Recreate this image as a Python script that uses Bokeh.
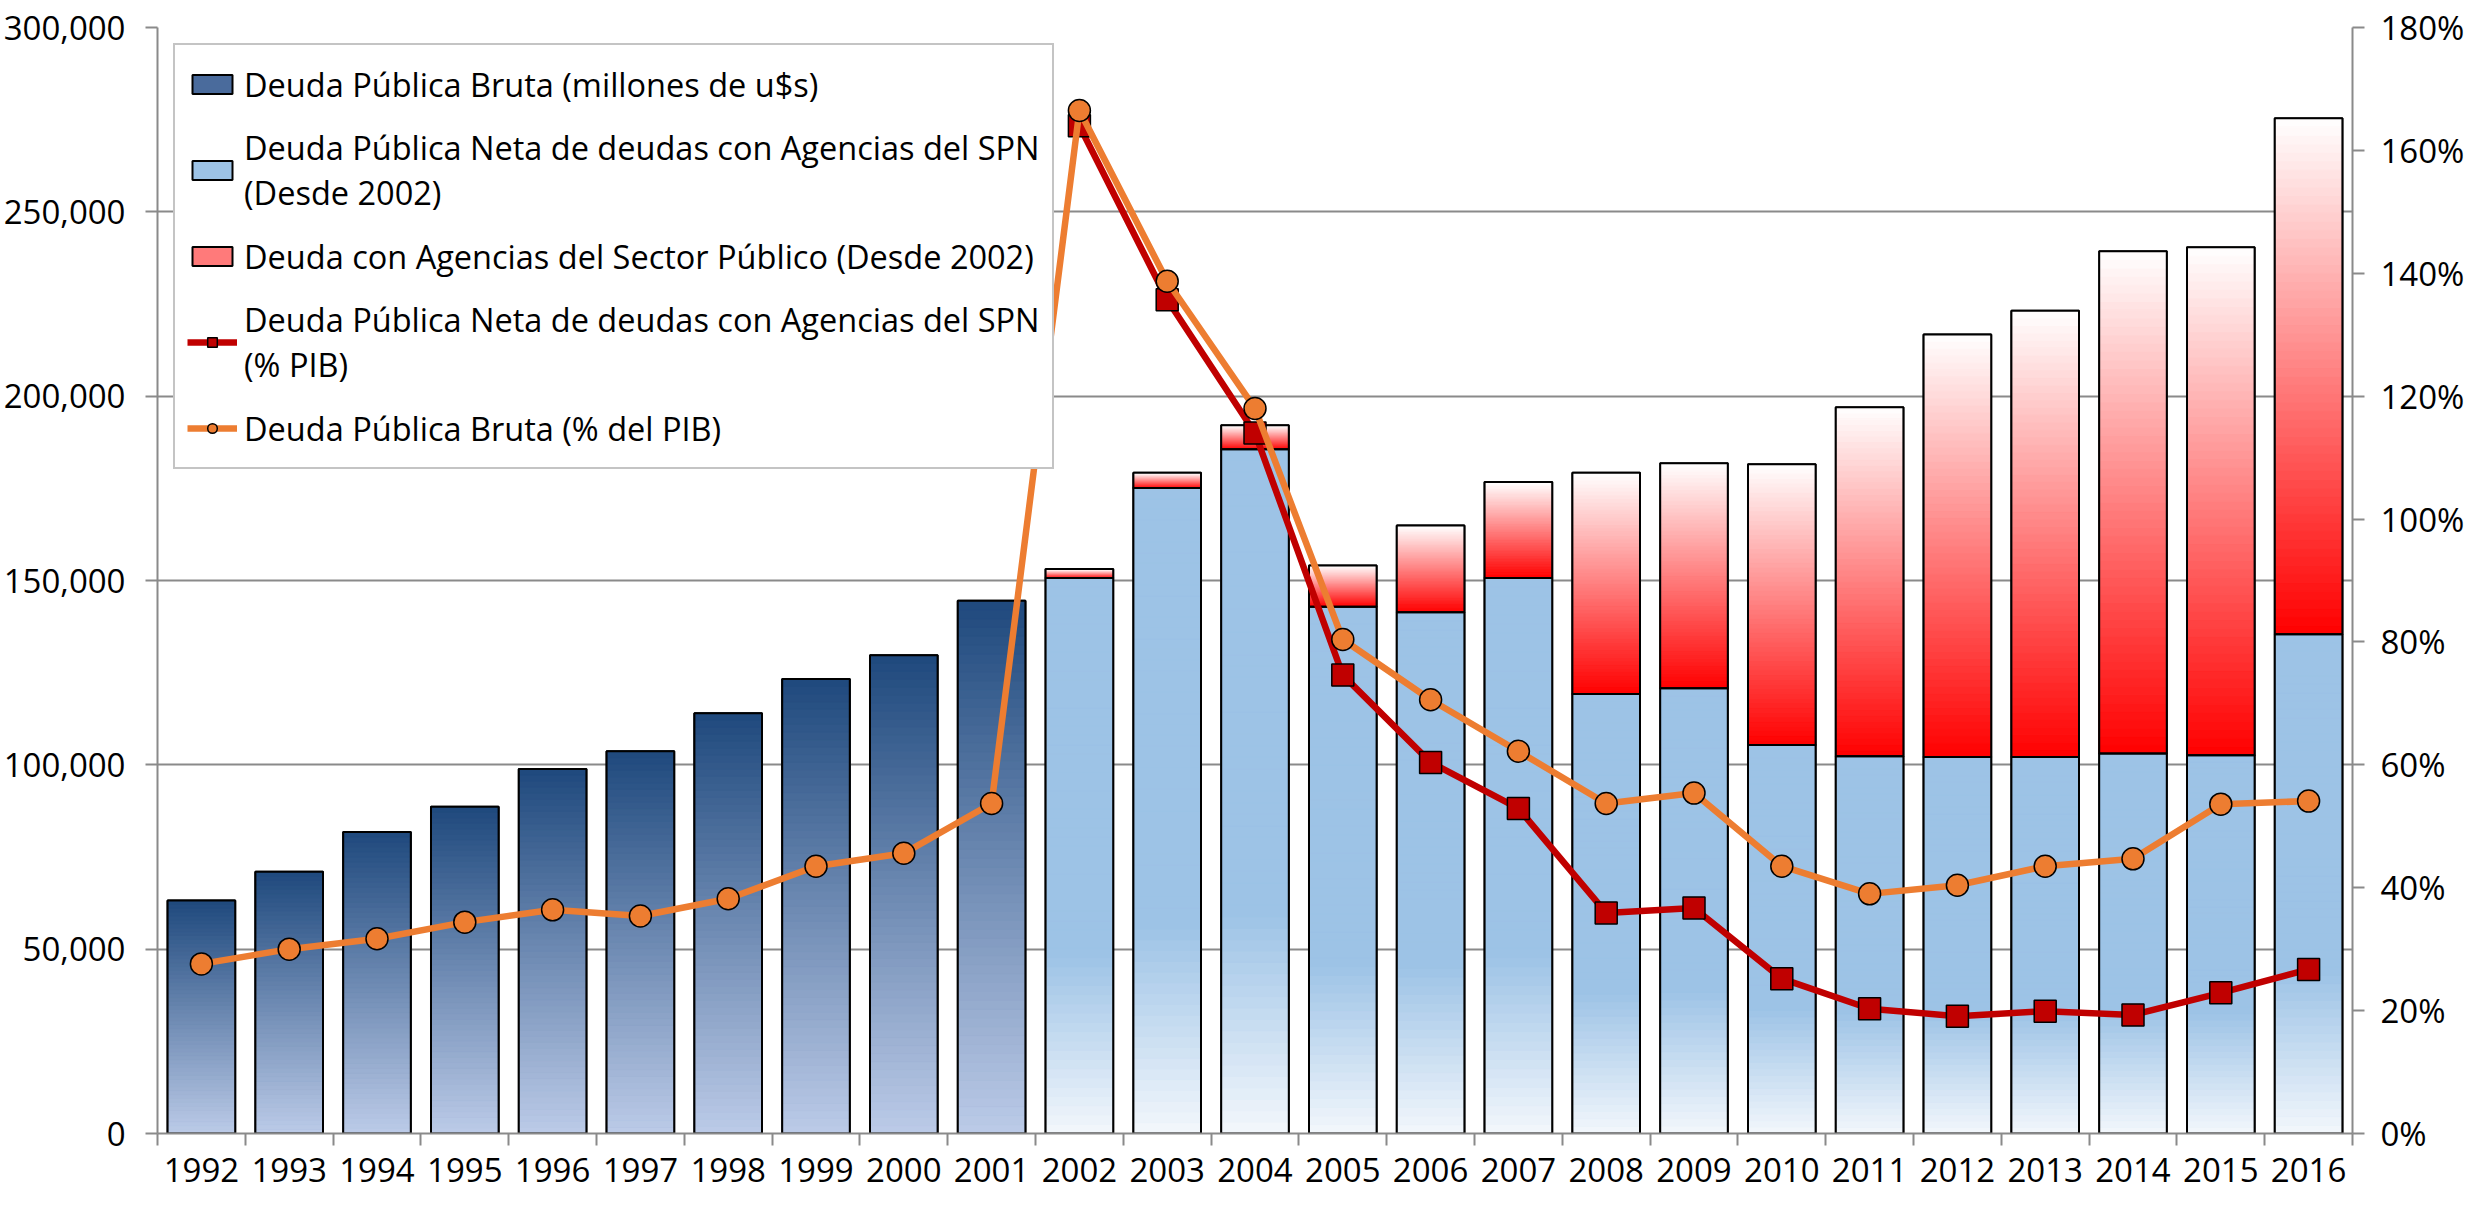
import numpy as np
from bokeh.plotting import figure
from bokeh.models import (Range1d, LinearAxis, FixedTicker, NumeralTickFormatter,
                          ColumnDataSource, Legend, LegendItem)
from bokeh.embed import file_html
from bokeh.resources import INLINE

# ---------------- data ----------------
years = [str(y) for y in range(1992, 2017)]
# Deuda Pública Bruta (millones de u$s), 1992-2001
bruta_musd = [63200, 71000, 81800, 88600, 98900, 103700, 114000, 123300, 129700, 144500]
# Deuda Pública Neta de deudas con Agencias del SPN (millones u$s), 2002-2016
neta_musd = [150700, 175100, 185600, 142900, 141400, 150700, 119200, 120800,
             105400, 102300, 102100, 102100, 103100, 102600, 135400]
# Total (neta + deuda con agencias del sector público), 2002-2016
total_musd = [153100, 179200, 192100, 154100, 164900, 176700, 179200, 181800,
              181500, 197000, 216700, 223200, 239300, 240400, 275400]
# Deuda Pública Bruta (% del PIB), 1992-2016
bruta_pct = [27.6, 30.0, 31.7, 34.4, 36.4, 35.4, 38.2, 43.5, 45.6, 53.7,
             166.5, 138.7, 118.0, 80.4, 70.6, 62.2, 53.7, 55.4, 43.5, 39.0,
             40.4, 43.5, 44.7, 53.6, 54.1]
# Deuda Pública Neta de deudas con Agencias del SPN (% PIB), 2002-2016
neta_pct = [164.0, 135.7, 114.0, 74.6, 60.4, 52.9, 35.9, 36.7, 25.2, 20.3,
            19.1, 19.9, 19.3, 22.9, 26.7]

left_ticks = [0, 50000, 100000, 150000, 200000, 250000, 300000]
right_ticks = [0, 0.2, 0.4, 0.6, 0.8, 1.0, 1.2, 1.4, 1.6, 1.8]

lbl_bruta = "Deuda Pública Bruta (millones de u$s)"
lbl_neta = "Deuda Pública Neta de deudas con Agencias del SPN\n(Desde 2002)"
lbl_agen = "Deuda con Agencias del Sector Público (Desde 2002)"
lbl_neta_pct = "Deuda Pública Neta de deudas con Agencias del SPN\n(% PIB)"
lbl_bruta_pct = "Deuda Pública Bruta (% del PIB)"

# ---------------- derived positions ----------------
n_all = len(years)
x_all = list(range(1, n_all + 1))
x_b = x_all[:len(bruta_musd)]
x_n = x_all[len(bruta_musd):]

FONT = "Open Sans"
FS = "33px"
LFS = "32.5px"
GRAY = "#8a8a8a"
W = 0.77


def h2rgb(h):
    return tuple(int(h[i:i + 2], 16) for i in (1, 3, 5))


def mix(c0, c1, t):
    a, b = h2rgb(c0), h2rgb(c1)
    return "#%02x%02x%02x" % tuple(int(round(a[i] + (b[i] - a[i]) * t)) for i in range(3))


def slices(xs, bottoms, tops, fn, n=60):
    X, B, T, C = [], [], [], []
    for x, b, t in zip(xs, bottoms, tops):
        e = np.linspace(b, t, n + 1)
        for k in range(n):
            X.append(x); B.append(e[k]); T.append(e[k + 1]); C.append(fn((k + 0.5) / n))
    return ColumnDataSource(dict(x=X, bottom=B, top=T, color=C))


def dark_fn(f):
    return mix("#BCCBE8", "#1F497D", f)


def light_fn(f):
    if f >= 0.32:
        return "#9DC3E6"
    return mix("#F3F7FC", "#9DC3E6", f / 0.32)


def red_fn(f):
    return mix("#FF0000", "#FFFFFF", f)


p = figure(width=2467, height=1195, output_backend="svg", toolbar_location=None,
           x_range=Range1d(0.5, n_all + 0.5), y_range=Range1d(0, 300000),
           min_border_left=147, min_border_right=109, min_border_top=27, min_border_bottom=62,
           background_fill_color="white", border_fill_color="white")
p.outline_line_color = None
p.extra_y_ranges = {"pct": Range1d(0, 1.8)}

# grid
p.xgrid.visible = False
p.ygrid.ticker = FixedTicker(ticks=left_ticks)
p.ygrid.grid_line_color = GRAY
p.ygrid.grid_line_width = 2

# legend swatch renderers (covered by gradient slices)
zeros_b = [0] * len(x_b)
zeros_n = [0] * len(x_n)
r_bruta = p.vbar(x=x_b, bottom=zeros_b, top=bruta_musd, width=W,
                 fill_color="#4a6b9c", line_color="black", line_width=2)
r_neta = p.vbar(x=x_n, bottom=zeros_n, top=neta_musd, width=W,
                fill_color="#9DC3E6", line_color="black", line_width=2)
r_agen = p.vbar(x=x_n, bottom=neta_musd, top=total_musd, width=W,
                fill_color="#FF7a7a", line_color="black", line_width=2)

# gradient fills
for src in (slices(x_b, zeros_b, bruta_musd, dark_fn),
            slices(x_n, zeros_n, neta_musd, light_fn),
            slices(x_n, neta_musd, total_musd, red_fn)):
    p.vbar(x="x", bottom="bottom", top="top", width=W, source=src,
           fill_color="color", line_color="color", line_width=1)

# outlines
p.vbar(x=x_b, bottom=zeros_b, top=bruta_musd, width=W, fill_color=None, line_color="black", line_width=2)
p.vbar(x=x_n, bottom=zeros_n, top=neta_musd, width=W, fill_color=None, line_color="black", line_width=2)
p.vbar(x=x_n, bottom=neta_musd, top=total_musd, width=W, fill_color=None, line_color="black", line_width=2)

# lines
np_ = [v / 100 for v in neta_pct]
bp_ = [v / 100 for v in bruta_pct]
l1 = p.line(x_n, np_, y_range_name="pct", line_color="#C00000", line_width=6.5)
m1 = p.scatter(x_n, np_, y_range_name="pct", marker="square", size=22,
               fill_color="#C00000", line_color="black", line_width=1.5)
l2 = p.line(x_all, bp_, y_range_name="pct", line_color="#ED7D31", line_width=6.5)
m2 = p.scatter(x_all, bp_, y_range_name="pct", marker="circle", size=22,
               fill_color="#ED7D31", line_color="black", line_width=1.5)


# axes
def style_axis(ax):
    ax.axis_line_color = GRAY
    ax.axis_line_width = 2
    ax.major_tick_line_color = GRAY
    ax.major_tick_line_width = 2
    ax.major_tick_in = 0
    ax.major_tick_out = 12
    ax.minor_tick_line_color = None
    ax.major_label_text_font = FONT
    ax.major_label_text_font_size = FS
    ax.major_label_text_color = "black"


ly = p.yaxis[0]
style_axis(ly)
ly.ticker = FixedTicker(ticks=left_ticks)
ly.formatter = NumeralTickFormatter(format="0,0")
ly.major_label_standoff = 20

ry = LinearAxis(y_range_name="pct", ticker=FixedTicker(ticks=right_ticks),
                formatter=NumeralTickFormatter(format="0%"))
style_axis(ry)
ry.major_label_standoff = 16
p.add_layout(ry, "right")

bx = p.xaxis[0]
style_axis(bx)
bx.ticker = FixedTicker(ticks=x_all, minor_ticks=[i - 0.5 for i in x_all] + [n_all + 0.5])
bx.major_label_overrides = {i: y for i, y in zip(x_all, years)}
bx.major_tick_out = 0
bx.minor_tick_line_color = GRAY
bx.minor_tick_line_width = 2
bx.minor_tick_in = 0
bx.minor_tick_out = 12
bx.major_label_standoff = 12

legend = Legend(items=[
    LegendItem(label=lbl_bruta, renderers=[r_bruta]),
    LegendItem(label=lbl_neta, renderers=[r_neta]),
    LegendItem(label=lbl_agen, renderers=[r_agen]),
    LegendItem(label=lbl_neta_pct, renderers=[l1, m1]),
    LegendItem(label=lbl_bruta_pct, renderers=[l2, m2]),
], location="top_left")
legend.margin = 16
legend.padding = 12
legend.spacing = 14
legend.label_height = 54
legend.glyph_width = 50
legend.glyph_height = 24
legend.label_standoff = 7
legend.label_text_font = FONT
legend.label_text_font_size = LFS
legend.label_text_color = "black"
legend.label_text_line_height = 1.4
legend.border_line_color = GRAY
legend.border_line_width = 2
legend.background_fill_color = "white"
legend.background_fill_alpha = 1
p.add_layout(legend, "center")

open("out.html", "w").write(file_html(p, INLINE))
